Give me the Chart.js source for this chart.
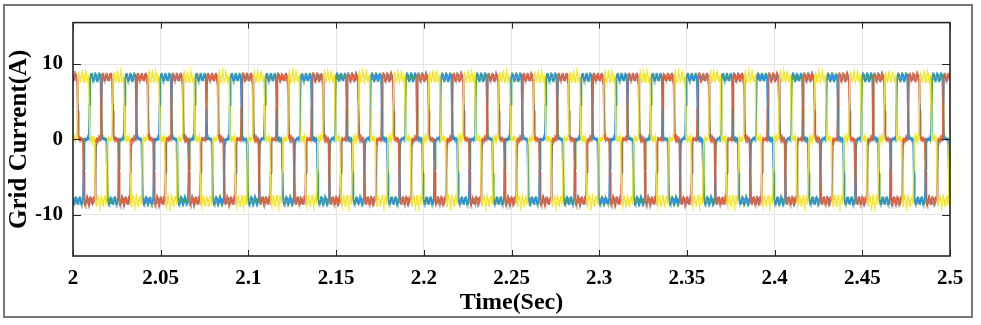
<!DOCTYPE html>
<html>
<head>
<meta charset="utf-8">
<script src="https://cdn.jsdelivr.net/npm/chart.js@4.4.1/dist/chart.umd.min.js"></script>
<style>
  html, body { margin: 0; padding: 0; background: #fff; }
</style>
</head>
<body>
<canvas id="gridCurrent" width="981" height="325"></canvas>
<script>
// time axis
const tStart = 2.0;
const cyclePeriod = 0.02;   // 50 Hz
const cycleCount = 25;
const xTicks = [2, 2.05, 2.1, 2.15, 2.2, 2.25, 2.3, 2.35, 2.4, 2.45, 2.5];
const xTickLabels = ['2', '2.05', '2.1', '2.15', '2.2', '2.25', '2.3', '2.35', '2.4', '2.45', '2.5'];
const yTicks = [-10, 0, 10];
const yTickLabels = ['-10', '0', '10'];

// one fundamental cycle per phase, 5 degree steps (72 samples)
const blueCycle = [
  0.1, 0.0, 0.1, 0.2, 0.0, 0.4,
  4.6,
  8.0, 8.3, 8.6, 8.7, 8.6, 8.2, 7.9, 7.8, 7.9, 8.2, 8.5, 8.7, 8.6, 8.3, 7.9, 7.8, 7.9, 8.2, 8.5, 8.7, 8.6, 8.3, 8.0,
  4.1,
  0.6, 0.2, 0.0, 0.1, 0.2, 0.1, -0.1, 0.0, 0.1, 0.0, -0.4,
  -4.5,
  -7.8, -8.1, -8.4, -8.6, -8.5, -8.2, -7.8, -7.7, -7.8, -8.1, -8.5, -8.6, -8.4, -8.1, -7.8, -7.7, -7.9, -8.2, -8.5, -8.6, -8.4, -8.0, -7.8,
  -4.0,
  -0.6, -0.2, 0.0, -0.1, 0.0
];
const orangeCycle = [
  -0.1, 0.1, 0.2, 0.0, -0.1, 0.5,
  4.2,
  8.2, 8.5, 8.7, 8.6, 8.3, 8.0, 7.8, 7.9, 8.2, 8.5, 8.7, 8.6, 8.3, 7.9, 7.8, 7.9, 8.2, 8.6, 8.7, 8.5, 8.2, 7.9, 8.1,
  3.8,
  0.7, 0.2, 0.0, -0.1, 0.1, 0.2, 0.0, -0.1, 0.1, 0.1, -0.5,
  -4.3,
  -7.9, -8.3, -8.6, -8.5, -8.2, -7.8, -7.7, -7.9, -8.2, -8.5, -8.6, -8.3, -7.9, -7.7, -7.8, -8.1, -8.5, -8.6, -8.4, -8.0, -7.7, -7.8, -8.1,
  -4.4,
  -0.7, -0.1, 0.1, 0.0, 0.0
];
const yellowCycle = [
  0.3, -0.2, 0.3, -0.1, 0.2, 0.7,
  4.8,
  8.2, 8.7, 9.0, 8.6, 8.0, 7.6, 7.7, 8.2, 8.7, 9.0, 8.7, 8.1, 7.6, 7.6, 8.1, 8.7, 9.0, 8.7, 8.1, 7.7, 7.7, 8.2, 8.6,
  4.4,
  0.6, -0.2, 0.3, 0.4, -0.1, 0.1, 0.4, -0.3, 0.1, 0.4, -0.5,
  -4.7,
  -8.1, -8.6, -8.9, -8.5, -7.9, -7.5, -7.6, -8.1, -8.6, -8.9, -8.6, -8.0, -7.5, -7.5, -8.0, -8.6, -8.9, -8.6, -8.0, -7.6, -7.6, -8.1, -8.6,
  -4.1,
  -0.6, 0.2, -0.3, 0.1, -0.2
];

// phase angle of each trace at t = 2 s (degrees)
const bluePhase = 225;
const orangePhase = 105;
const yellowPhase = 345;
const greenPhase = 215;   // second blue-phase trace, slightly lagging
const grayPhase = 95;     // second orange-phase trace, slightly lagging

function buildSeries(cycle, phaseDeg) {
  const n = cycle.length;
  const step = cyclePeriod / n;
  const shift = Math.round(phaseDeg / (360 / n));
  const pts = [];
  for (let k = 0; k <= n * cycleCount; k++) {
    pts.push({ x: tStart + k * step, y: cycle[(k + shift) % n] });
  }
  return pts;
}

const serif = "'Times New Roman', 'Liberation Serif', serif";

function trace(label, data, color, order) {
  return {
    label, data, order,
    borderColor: color,
    borderWidth: 1.3,
    pointRadius: 0,
    tension: 0,
    fill: false
  };
}

// inward tick marks, axes box and the figure frame
const axesFrame = {
  id: 'axesFrame',
  afterDatasetsDraw(chart) {
    const { ctx, chartArea: a, scales: { x, y } } = chart;
    ctx.save();
    ctx.strokeStyle = '#262626';
    ctx.lineWidth = 1;
    ctx.beginPath();
    xTicks.forEach(v => {
      const px = Math.round(x.getPixelForValue(v)) + 0.5;
      ctx.moveTo(px, a.bottom); ctx.lineTo(px, a.bottom - 6);
      ctx.moveTo(px, a.top); ctx.lineTo(px, a.top + 6);
    });
    yTicks.forEach(v => {
      const py = Math.round(y.getPixelForValue(v)) + 0.5;
      ctx.moveTo(a.left, py); ctx.lineTo(a.left + 8, py);
      ctx.moveTo(a.right, py); ctx.lineTo(a.right - 8, py);
    });
    ctx.stroke();
    ctx.lineWidth = 1.6;
    ctx.strokeRect(a.left, a.top, a.right - a.left, a.bottom - a.top);
    ctx.strokeStyle = '#777';
    ctx.lineWidth = 2;
    ctx.strokeRect(4, 5, 968, 312);
    ctx.restore();
  }
};

new Chart(document.getElementById('gridCurrent'), {
  type: 'line',
  data: {
    datasets: [
      trace('Ia ref', buildSeries(blueCycle, greenPhase), '#4ea74a', 4),
      trace('Ib ref', buildSeries(orangeCycle, grayPhase), '#7b7488', 3),
      trace('Ia', buildSeries(blueCycle, bluePhase), '#2b8fe0', 2),
      trace('Ib', buildSeries(orangeCycle, orangePhase), '#e5623a', 1),
      trace('Ic', buildSeries(yellowCycle, yellowPhase), '#f0e632', 0)
    ]
  },
  options: {
    responsive: false,
    animation: false,
    parsing: false,
    normalized: true,
    layout: { padding: { top: 18, right: 31, bottom: 0, left: 0 } },
    plugins: { legend: { display: false }, tooltip: { enabled: false } },
    scales: {
      x: {
        type: 'linear',
        min: 2,
        max: 2.5,
        afterBuildTicks: s => { s.ticks = xTicks.map(v => ({ value: v })); },
        afterFit: s => { s.height = 69; },
        ticks: {
          autoSkip: false,
          maxRotation: 0,
          padding: 10,
          color: '#000',
          font: { family: serif, size: 21, weight: 'bold' },
          callback: (v, i) => xTickLabels[i]
        },
        grid: { color: '#e4e4e4', lineWidth: 1, drawTicks: false },
        border: { display: false },
        title: {
          display: true,
          text: 'Time(Sec)',
          color: '#000',
          font: { family: serif, size: 24, weight: 'bold' },
          padding: { top: 0, bottom: 8 }
        }
      },
      y: {
        type: 'linear',
        min: -15.5,
        max: 15.5,
        afterBuildTicks: s => { s.ticks = yTicks.map(v => ({ value: v })); },
        afterFit: s => { s.width = 73; },
        ticks: {
          padding: 10,
          color: '#000',
          font: { family: serif, size: 21, weight: 'bold' },
          callback: (v, i) => yTickLabels[i]
        },
        grid: { color: '#e4e4e4', lineWidth: 1, drawTicks: false },
        border: { display: false },
        title: {
          display: true,
          text: 'Grid Current(A)',
          color: '#000',
          font: { family: serif, size: 25, weight: 'bold' },
          padding: { top: 5, bottom: 0 }
        }
      }
    }
  },
  plugins: [axesFrame]
});
</script>
</body>
</html>
